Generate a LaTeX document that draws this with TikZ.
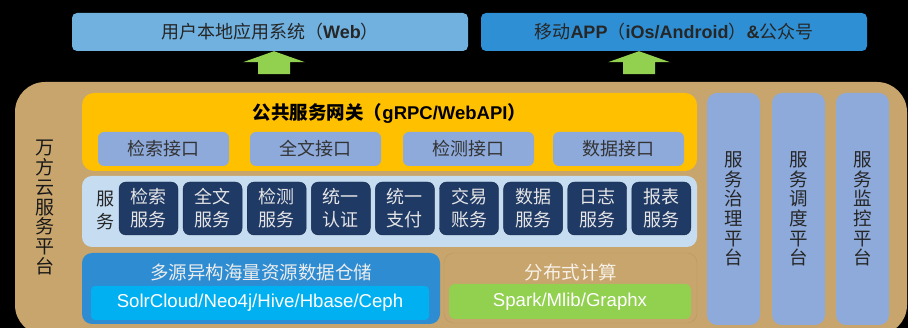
\documentclass[tikz,border=0pt]{standalone}
\usepackage{fontspec}
\setmainfont{Noto Sans CJK SC}
\newfontfamily\lat{Liberation Sans}
\usetikzlibrary{positioning}

\definecolor{panelTan}{HTML}{C8A56D}
\definecolor{webBlue}{HTML}{70B1E0}
\definecolor{appBlue}{HTML}{2E8FD4}
\definecolor{arrowGreen}{HTML}{92D050}
\definecolor{gateYellow}{HTML}{FFC000}
\definecolor{ifaceBlue}{HTML}{8EAADB}
\definecolor{rowBlue}{HTML}{C6DDF1}
\definecolor{navy}{HTML}{203A66}
\definecolor{storeBlue}{HTML}{2E8CD2}
\definecolor{cyanBox}{HTML}{00B0F0}

\begin{document}
\begin{tikzpicture}[
    x=1pt, y=-1pt,
    box/.style={rectangle, inner sep=0pt, text centered},
    topsys/.style={box, rounded corners=5pt, minimum height=38pt, font=\fontsize{18}{22}\selectfont, text=black!85},
    iface/.style={box, fill=ifaceBlue, rounded corners=6pt, minimum width=131pt, minimum height=34pt, font=\fontsize{18}{22}\selectfont, text=black!80},
    service/.style={box, fill=navy, draw=navy!70!black, rounded corners=7pt, minimum width=59pt, minimum height=53pt, align=center, font=\fontsize{18}{23}\selectfont, text=white!90!black},
    platform/.style={box, fill=ifaceBlue, rounded corners=10pt, minimum width=53pt, minimum height=232pt, align=center, font=\fontsize{18.5}{19.7}\selectfont, text=black!85},
    upblock/.style={fill=arrowGreen}
]
    % Canvas
    \useasboundingbox (0,0) rectangle (908,328);
    \fill[black] (0,0) rectangle (908,328);
    \clip (0,0) rectangle (908,328);

    % Top systems
    \node [topsys, fill=webBlue, minimum width=396pt] (web) at (270,32) {用户本地应用系统（{\lat\bfseries Web}）};
    \node [topsys, fill=appBlue, minimum width=386pt] (app) at (674,32) {移动{\lat\bfseries APP}（{\lat\bfseries iOs/Android}）{\lat\bfseries \&}公众号};

    % Platform panel
    \node [box, fill=panelTan, rounded corners=30pt, minimum width=892pt, minimum height=253pt] (panel) at (461,208.5) {};
    \node [box, align=center, font=\fontsize{19}{19.9}\selectfont, text=black!90] (cloud) at (45,207.5) {万\\方\\云\\服\\务\\平\\台};

    % Up arrows
    \fill [upblock] ([xshift=4pt]web.south) -- ++(31,11) -- ++(-15,0) -- ++(0,12) -- ++(-32,0) -- ++(0,-12) -- ++(-15,0) -- cycle;
    \fill [upblock] ([xshift=-35pt]app.south) -- ++(31,11) -- ++(-15,0) -- ++(0,12) -- ++(-32,0) -- ++(0,-12) -- ++(-15,0) -- cycle;

    % Gateway
    \node [box, fill=gateYellow, rounded corners=12pt, minimum width=615pt, minimum height=78pt] (gateway) at (389.5,132) {};
    \node [box, font=\fontsize{18.5}{22}\selectfont\bfseries, text=black] (gatetitle) at (389.5,113) {公共服务网关（{\lat gRPC/WebAPI}）};
    \foreach \name/\x/\txt in {search/163.5/检索接口, fulltext/315.5/全文接口, detect/468.5/检测接口, data/618.5/数据接口}
        \node [iface] (if-\name) at (\x,149) {\txt};

    % Services
    \node [box, fill=rowBlue, rounded corners=10pt, minimum width=615pt, minimum height=71pt] (servrow) at (389.5,211.5) {};
    \node [box, align=center, font=\fontsize{18}{23}\selectfont, text=black!85] (servlabel) at (105,210) {服\\务};
    \foreach \txt [count=\i from 0] in {检索\\服务, 全文\\服务, 检测\\服务, 统一\\认证, 统一\\支付, 交易\\账务, 数据\\服务, 日志\\服务, 报表\\服务}
        \node [service] (sv-\i) at (148.5+64.1*\i,208.5) {\txt};

    % Storage
    \node [box, fill=storeBlue, rounded corners=10pt, minimum width=358pt, minimum height=71pt] (store) at (261,288.5) {};
    \node [box, font=\fontsize{18.5}{22}\selectfont, text=white!93!black] (storetitle) at (261,272) {多源异构海量资源数据仓储};
    \node [box, fill=cyanBox, rounded corners=4pt, minimum width=338pt, minimum height=34pt, font=\lat\fontsize{18.6}{22}\selectfont, text=white] (storetech) at (260,303) {SolrCloud/Neo4j/Hive/Hbase/Ceph};

    % Computing
    \node [box, fill=panelTan, draw=panelTan!92!black, rounded corners=10pt, minimum width=253pt, minimum height=70pt] (compute) at (570.5,288) {};
    \node [box, font=\fontsize{18.5}{22}\selectfont, text=white!85!panelTan] (computetitle) at (571,272) {分布式计算};
    \node [box, fill=arrowGreen, rounded corners=6pt, minimum width=242pt, minimum height=35pt, font=\lat\fontsize{18.6}{22}\selectfont, text=white] (computetech) at (570,301.5) {Spark/Mlib/Graphx};

    % Side platforms
    \node [platform] (govern) at (733.5,209) {服\\务\\治\\理\\平\\台};
    \node [platform] (schedule) at (798.5,209) {服\\务\\调\\度\\平\\台};
    \node [platform] (monitor) at (862.5,209) {服\\务\\监\\控\\平\\台};
\end{tikzpicture}
\end{document}
